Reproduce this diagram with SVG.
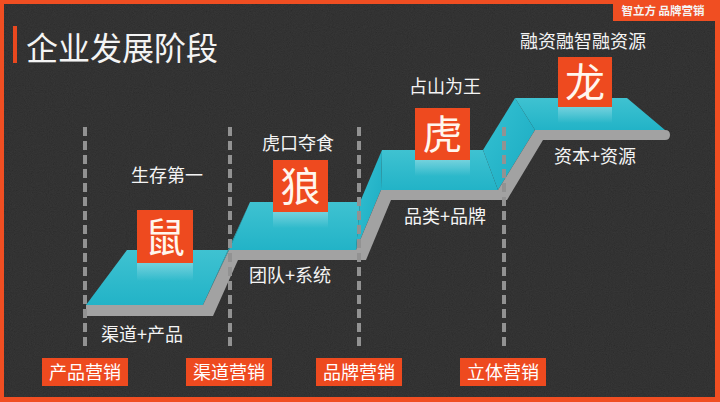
<svg xmlns="http://www.w3.org/2000/svg" width="720" height="402" viewBox="0 0 720 402">
<defs>
<filter id="noise" x="0" y="0" width="100%" height="100%">
<feTurbulence type="fractalNoise" baseFrequency="0.95" numOctaves="2" seed="7"/>
<feColorMatrix type="matrix" values="0.33 0.33 0.33 0 0 0.33 0.33 0.33 0 0 0.33 0.33 0.33 0 0 0 0 0 0 1"/>
</filter>
<linearGradient id="topG" x1="0" y1="0" x2="0" y2="1">
<stop offset="0" stop-color="#3fc2d1"/>
<stop offset="1" stop-color="#22b3c7"/>
</linearGradient>
<linearGradient id="riseG" x1="0" y1="0" x2="1" y2="1">
<stop offset="0" stop-color="#36c2d3"/>
<stop offset="1" stop-color="#19aac1"/>
</linearGradient>
<linearGradient id="refl" x1="0" y1="0" x2="0" y2="1">
<stop offset="0" stop-color="#ffffff" stop-opacity="0.3"/>
<stop offset="1" stop-color="#ffffff" stop-opacity="0"/>
</linearGradient>
<style>
.cjk{font-family:"Noto Sans CJK SC","Noto Sans",sans-serif;fill:#f4f4f4}
.lbl{font-size:18px;text-anchor:middle}
.animal{font-size:40px;text-anchor:middle;fill:#fff6ee}
.box{fill:#ee4a1f}
.top{fill:url(#topG)}
.rise{fill:url(#riseG)}
.dash{stroke:#929292;stroke-width:4;stroke-dasharray:9 5;fill:none}
.tag{font-size:18px;text-anchor:middle;fill:#ffffff}
</style>
</defs>
<rect x="0" y="0" width="720" height="402" fill="#f04e22"/>
<rect x="4" y="4" width="711" height="393" fill="#1c1c1c"/>
<rect x="4" y="4" width="711" height="393" filter="url(#noise)" opacity="0.14"/>
<rect x="613" y="0" width="107" height="21" fill="#f04e22"/>
<text x="663" y="15" class="cjk" font-size="11.5" font-weight="bold" text-anchor="middle" fill="#fff">智立方 品牌营销</text>
<g id="title">
<rect x="13" y="26" width="4" height="37" fill="#e9481f"/>
<text x="26" y="60" class="cjk" font-size="32">企业发展阶段</text>
</g>
<g id="stairs">
<polygon class="rise" points="228,250 250,202 229,250 203,305"/>
<polygon class="rise" points="360,202 382,150 381,190 356,250"/>
<polygon class="rise" points="483,150 515,98 535,130 498,190"/>
<polygon class="top" points="127,250 228,250 203,305 86,305"/>
<polygon class="top" points="250,202 360,202 356,250 229,250"/>
<polygon class="top" points="382,150 483,150 498,190 381,190"/>
<polygon class="top" points="515,98 627,98 665,130 535,130"/>
<path d="M86,305 L203,305 L229,250 L356,250 L381,190 L498,190 L535,130 L665,130 Q670,130 670,135 Q670,140 665,140 L543,140 L507,200 L391,200 L366,260 L238,260 L213,316 L86,316 Z" fill="#a2a2a2"/>
</g>
<g id="connectors">
<line class="dash" x1="85" y1="127" x2="85" y2="348"/>
<line class="dash" x1="230" y1="127" x2="230" y2="348"/>
<line class="dash" x1="359" y1="127" x2="359" y2="348"/>
<line class="dash" x1="504" y1="127" x2="504" y2="348"/>
</g>
<g id="stage-rat">
<rect x="137" y="263" width="56" height="18" fill="url(#refl)"/>
<rect class="box" x="137" y="210" width="56" height="53"/>
<text class="cjk animal" x="165" y="252">鼠</text>
<text class="cjk lbl" x="167" y="182">生存第一</text>
<text class="cjk lbl" x="142" y="341">渠道+产品</text>
</g>
<g id="stage-wolf">
<rect x="273" y="212" width="55" height="16" fill="url(#refl)"/>
<rect class="box" x="273" y="160" width="55" height="52"/>
<text class="cjk animal" x="300.5" y="201">狼</text>
<text class="cjk lbl" x="298" y="150">虎口夺食</text>
<text class="cjk lbl" x="290" y="282">团队+系统</text>
</g>
<g id="stage-tiger">
<rect x="415" y="160" width="55" height="16" fill="url(#refl)"/>
<rect class="box" x="415" y="108" width="55" height="52"/>
<text class="cjk animal" x="442.5" y="149">虎</text>
<text class="cjk lbl" x="445" y="93">占山为王</text>
<text class="cjk lbl" x="445" y="223">品类+品牌</text>
</g>
<g id="stage-dragon">
<rect x="558" y="107" width="54" height="16" fill="url(#refl)"/>
<rect class="box" x="558" y="57" width="54" height="50"/>
<text class="cjk animal" x="585" y="97">龙</text>
<text class="cjk lbl" x="583" y="48">融资融智融资源</text>
<text class="cjk lbl" x="595" y="163">资本+资源</text>
</g>
<g id="tag-product"><rect class="box" x="42" y="358" width="86" height="28"/><text class="cjk tag" x="85" y="379">产品营销</text></g>
<g id="tag-channel"><rect class="box" x="186" y="358" width="86" height="28"/><text class="cjk tag" x="229" y="379">渠道营销</text></g>
<g id="tag-brand"><rect class="box" x="316" y="358" width="86" height="28"/><text class="cjk tag" x="359" y="379">品牌营销</text></g>
<g id="tag-all"><rect class="box" x="460" y="358" width="86" height="28"/><text class="cjk tag" x="503" y="379">立体营销</text></g>
</svg>
